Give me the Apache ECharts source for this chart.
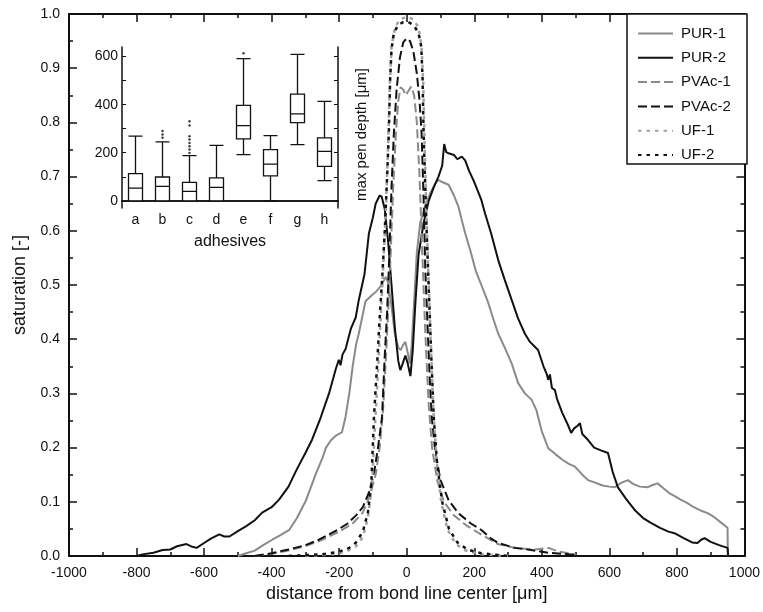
<!DOCTYPE html>
<html>
<head>
<meta charset="utf-8">
<script src="https://cdn.jsdelivr.net/npm/echarts@6/dist/echarts.min.js"></script>
<style>html,body{margin:0;padding:0;background:#fff}#c{width:763px;height:612px}</style>
</head>
<body>
<div id="c"></div>
<script>
// ---- main chart data: [distance (µm), saturation] ----
const pur1 = [[-500,0.0],[-475,0.005],[-450,0.01],[-425,0.02],[-398,0.03],[-375,0.038],[-348,0.048],[-325,0.07],[-298,0.103],[-270,0.15],[-250,0.18],[-239,0.2],[-225,0.213],[-210,0.222],[-192,0.228],[-181,0.257],[-170,0.3],[-160,0.35],[-150,0.39],[-142,0.41],[-132,0.44],[-122,0.47],[-105,0.48],[-90,0.488],[-75,0.5],[-62,0.515],[-55,0.505],[-45,0.46],[-35,0.41],[-25,0.385],[-18,0.38],[-10,0.39],[-4,0.395],[3,0.375],[9,0.355],[15,0.39],[22,0.47],[30,0.56],[40,0.615],[55,0.645],[70,0.67],[85,0.688],[94,0.694],[105,0.69],[124,0.685],[140,0.665],[153,0.645],[163,0.62],[173,0.596],[190,0.56],[205,0.525],[221,0.5],[240,0.47],[255,0.44],[271,0.41],[290,0.385],[311,0.355],[330,0.319],[350,0.3],[370,0.288],[384,0.269],[400,0.23],[419,0.199],[440,0.188],[460,0.178],[480,0.17],[498,0.165],[520,0.15],[537,0.14],[560,0.135],[580,0.13],[600,0.128],[616,0.127],[635,0.135],[655,0.14],[670,0.133],[690,0.128],[714,0.127],[728,0.131],[743,0.134],[760,0.125],[780,0.115],[800,0.108],[811,0.104],[830,0.098],[850,0.09],[870,0.084],[891,0.079],[910,0.072],[930,0.062],[950,0.052],[951,0.0]];

const pur2 = [[-800,0.0],[-782,0.003],[-750,0.006],[-723,0.011],[-700,0.012],[-680,0.018],[-652,0.022],[-635,0.017],[-622,0.015],[-600,0.024],[-580,0.032],[-555,0.04],[-540,0.036],[-525,0.036],[-500,0.046],[-475,0.055],[-450,0.066],[-428,0.08],[-400,0.09],[-378,0.104],[-350,0.128],[-327,0.158],[-300,0.19],[-280,0.215],[-255,0.255],[-230,0.3],[-210,0.345],[-201,0.362],[-196,0.352],[-190,0.372],[-181,0.382],[-165,0.42],[-151,0.44],[-142,0.472],[-125,0.52],[-112,0.595],[-100,0.625],[-92,0.65],[-80,0.665],[-74,0.663],[-65,0.64],[-55,0.58],[-45,0.5],[-35,0.42],[-25,0.36],[-19,0.343],[-12,0.355],[-4,0.37],[3,0.355],[11,0.332],[18,0.38],[25,0.46],[35,0.555],[50,0.614],[65,0.655],[80,0.68],[94,0.7],[105,0.72],[111,0.76],[117,0.745],[124,0.743],[140,0.74],[150,0.732],[163,0.737],[173,0.73],[185,0.71],[200,0.69],[221,0.657],[232,0.632],[250,0.595],[271,0.546],[290,0.51],[311,0.472],[330,0.438],[350,0.41],[365,0.395],[389,0.38],[405,0.35],[415,0.335],[419,0.325],[424,0.335],[430,0.31],[439,0.306],[445,0.29],[460,0.265],[475,0.245],[487,0.227],[495,0.235],[505,0.24],[513,0.245],[520,0.225],[537,0.214],[555,0.2],[575,0.195],[596,0.19],[610,0.155],[625,0.127],[650,0.105],[675,0.085],[700,0.07],[723,0.061],[750,0.052],[775,0.045],[793,0.042],[820,0.033],[845,0.025],[861,0.024],[872,0.03],[882,0.033],[900,0.026],[925,0.02],[950,0.015],[952,0.0]];

const pvac1 = [[-450,0.0],[-400,0.004],[-350,0.01],[-300,0.018],[-250,0.03],[-200,0.045],[-160,0.06],[-130,0.08],[-110,0.11],[-92,0.15],[-80,0.2],[-70,0.27],[-62,0.36],[-55,0.45],[-48,0.55],[-40,0.68],[-32,0.78],[-25,0.84],[-18,0.865],[-10,0.86],[-3,0.85],[5,0.858],[13,0.866],[22,0.85],[30,0.8],[38,0.7],[45,0.58],[52,0.46],[58,0.37],[65,0.28],[75,0.2],[90,0.14],[110,0.1],[140,0.075],[180,0.055],[220,0.04],[270,0.022],[320,0.015],[380,0.012],[420,0.015],[450,0.008],[500,0.003]];

const pvac2 = [[-450,0.0],[-400,0.005],[-350,0.012],[-300,0.02],[-260,0.03],[-230,0.04],[-200,0.05],[-175,0.06],[-150,0.075],[-130,0.09],[-110,0.12],[-95,0.16],[-85,0.2],[-73,0.257],[-65,0.37],[-58,0.45],[-53,0.53],[-45,0.68],[-38,0.78],[-30,0.86],[-20,0.92],[-10,0.948],[0,0.955],[10,0.95],[20,0.93],[30,0.89],[38,0.84],[44,0.78],[50,0.66],[55,0.53],[62,0.42],[68,0.33],[74,0.257],[85,0.19],[100,0.14],[124,0.103],[153,0.079],[190,0.06],[221,0.048],[250,0.032],[271,0.024],[320,0.015],[369,0.011],[420,0.006],[500,0.002]];

const uf1 = [[-300,0.0],[-220,0.003],[-180,0.008],[-150,0.018],[-130,0.035],[-115,0.07],[-103,0.13],[-93,0.25],[-85,0.34],[-77,0.44],[-69,0.54],[-61,0.65],[-55,0.76],[-50,0.87],[-45,0.94],[-35,0.975],[-20,0.99],[0,0.995],[20,0.99],[35,0.975],[44,0.94],[49,0.87],[53,0.76],[58,0.64],[64,0.52],[71,0.4],[78,0.28],[88,0.18],[102,0.1],[120,0.05],[145,0.022],[175,0.01],[220,0.003],[300,0.0]];

const uf2 = [[-350,0.0],[-250,0.003],[-200,0.008],[-170,0.015],[-150,0.025],[-130,0.045],[-115,0.08],[-105,0.13],[-97,0.257],[-88,0.35],[-80,0.44],[-72,0.52],[-65,0.6],[-58,0.7],[-53,0.78],[-49,0.88],[-45,0.935],[-38,0.965],[-25,0.98],[-10,0.985],[5,0.985],[20,0.98],[35,0.965],[43,0.94],[47,0.88],[50,0.78],[55,0.68],[59,0.6],[65,0.5],[72,0.38],[80,0.257],[90,0.17],[105,0.1],[125,0.05],[150,0.025],[180,0.012],[220,0.005],[300,0.0]];

// ---- inset (boxplot) data ----
const adhesives = ['a','b','c','d','e','f','g','h'];
// [min, Q1, median, Q3, max]
const boxStats = [
  [0,0,53,113,269],
  [0,0,60,99,245],
  [0,0,39,77,188],
  [0,0,56,95,231],
  [192,258,313,397,592],
  [0,104,153,213,271],
  [234,325,362,444,609],
  [84,143,206,262,414]
];
const outliers = [['b',262],['b',276],['b',290],['c',199],['c',213],['c',227],['c',241],['c',255],['c',269],['c',313],['c',331],['e',614]];

const xTicks = [-1000,-800,-600,-400,-200,0,200,400,600,800,1000];
const yTicks = [0,0.1,0.2,0.3,0.4,0.5,0.6,0.7,0.8,0.9,1.0];
const insetLabels = [0,200,400,600];
const insetTicks = [0,100,200,300,400,500,600];

const FONT = 'Liberation Sans';
const BLACK = '#111';
const GRAY = '#8a8a8a';
const GRAY2 = '#a0a0a0';

const chart = echarts.init(document.getElementById('c'), null, {renderer:'canvas'});

function lineSeries(name, data, color, type, width){
  return {
    name, type:'line', data, xAxisIndex:0, yAxisIndex:0,
    showSymbol:false, symbol:'none', smooth:false, animation:false,
    lineStyle:{color, width, type},
    itemStyle:{color},
    z: 3
  };
}

function mainTick(){ return {show:true, inside:true, length:8, lineStyle:{color:BLACK, width:1.5}}; }
function mainMinor(){ return {show:true, splitNumber:2, length:4, lineStyle:{color:BLACK, width:1.5}}; }
function mainLine(){ return {show:true, onZero:false, lineStyle:{color:BLACK, width:2}}; }

const option = {
  backgroundColor:'#fff',
  animation:false,
  grid:[
    {left:69, right:16, top:14, bottom:56},
    {left:122, top:47, width:216, height:161}
  ],
  legend:{
    data:['PUR-1','PUR-2','PVAc-1','PVAc-2','UF-1','UF-2'],
    orient:'vertical', left:637, top:26, padding:0,
    itemWidth:35, itemHeight:14, itemGap:9.3,
    itemStyle:{opacity:0},
    textStyle:{fontFamily:FONT, fontSize:15, color:'#111', padding:[0,0,0,3]}
  },
  xAxis:[
    {type:'value', gridIndex:0, min:xTicks[0], max:xTicks[xTicks.length-1], interval:200,
     axisLine:mainLine(), axisTick:mainTick(), minorTick:mainMinor(), splitLine:{show:false},
     axisLabel:{fontFamily:FONT, fontSize:14, color:'#111', margin:10, formatter:v=>String(v)},
     name:'distance from bond line center [μm]', nameLocation:'middle', nameGap:29,
     nameTextStyle:{fontFamily:FONT, fontSize:18, color:'#111'}},
    {type:'value', gridIndex:0, position:'top', min:xTicks[0], max:xTicks[xTicks.length-1], interval:200,
     axisLine:mainLine(), axisTick:mainTick(), minorTick:mainMinor(), splitLine:{show:false},
     axisLabel:{show:false}},
    {type:'category', gridIndex:1, data:adhesives, boundaryGap:true,
     axisLine:{show:true, lineStyle:{color:BLACK, width:1.5}}, axisTick:{show:false},
     axisLabel:{fontFamily:FONT, fontSize:14, color:'#111', margin:5},
     name:'adhesives', nameLocation:'middle', nameGap:26,
     nameTextStyle:{fontFamily:FONT, fontSize:16, color:'#111'}},
    {type:'category', gridIndex:1, data:adhesives, position:'top', boundaryGap:true,
     axisLine:{show:true, lineStyle:{color:BLACK, width:1.5}}, axisTick:{show:false}, axisLabel:{show:false}}
  ],
  yAxis:[
    {type:'value', gridIndex:0, min:0, max:1, interval:0.1,
     axisLine:mainLine(), axisTick:mainTick(), minorTick:mainMinor(), splitLine:{show:false},
     axisLabel:{fontFamily:FONT, fontSize:14, color:'#111', margin:9, formatter:v=>v.toFixed(1)},
     name:'saturation [-]', nameLocation:'middle', nameGap:40,
     nameTextStyle:{fontFamily:FONT, fontSize:18, color:'#111'}},
    {type:'value', gridIndex:0, position:'right', min:0, max:1, interval:0.1,
     axisLine:mainLine(), axisTick:mainTick(), minorTick:mainMinor(), splitLine:{show:false},
     axisLabel:{show:false}},
    {type:'value', gridIndex:1, min:-30, max:640,
     axisLine:{show:true, onZero:false, lineStyle:{color:BLACK, width:1.5}},
     axisTick:{show:true, inside:true, length:4, customValues:insetTicks, lineStyle:{color:BLACK}},
     axisLabel:{fontFamily:FONT, fontSize:14, color:'#111', margin:4, customValues:insetLabels},
     splitLine:{show:false}},
    {type:'value', gridIndex:1, position:'right', min:-30, max:640,
     axisLine:{show:true, onZero:false, lineStyle:{color:BLACK, width:1.5}},
     axisTick:{show:true, inside:true, length:4, customValues:insetTicks, lineStyle:{color:BLACK}},
     axisLabel:{show:false}, splitLine:{show:false},
     name:'max pen depth [μm]', nameLocation:'middle', nameGap:16, nameRotate:90,
     nameTextStyle:{fontFamily:FONT, fontSize:15, color:'#111', padding:[0,14,0,0]}}
  ],
  graphic:[
    {type:'rect', shape:{x:627, y:14, width:120, height:150},
     style:{fill:'#fff', stroke:BLACK, lineWidth:1.5}, z:1}
  ],
  series:[
    lineSeries('PUR-1', pur1, GRAY, 'solid', 2),
    lineSeries('PUR-2', pur2, BLACK, 'solid', 2),
    lineSeries('PVAc-1', pvac1, GRAY, [9,4], 2),
    lineSeries('PVAc-2', pvac2, BLACK, [9,4], 2),
    lineSeries('UF-1', uf1, GRAY2, [3.5,5], 2.5),
    lineSeries('UF-2', uf2, BLACK, [3.5,5], 2.5),
    {
      name:'box', type:'boxplot', xAxisIndex:2, yAxisIndex:2,
      data:boxStats, boxWidth:[14,14],
      itemStyle:{color:'#fff', borderColor:BLACK, borderWidth:1.3},
      z:3
    },
    {
      name:'outliers', type:'scatter', xAxisIndex:2, yAxisIndex:2,
      data:outliers, symbol:'circle', symbolSize:2.5,
      itemStyle:{color:BLACK}, z:4
    }
  ]
};
chart.setOption(option);
</script>
</body>
</html>
